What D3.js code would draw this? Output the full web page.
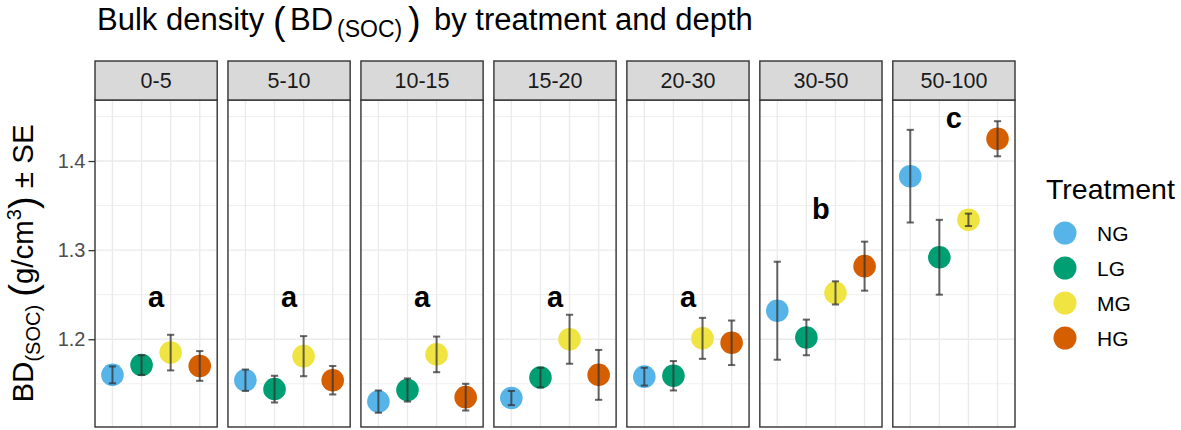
<!DOCTYPE html>
<html>
<head>
<meta charset="utf-8">
<script src="https://cdn.jsdelivr.net/npm/d3@7"></script>
<style>
  body { margin: 0; background: #fff; }
  svg { display: block; font-family: Arial, "Liberation Sans", sans-serif; }
</style>
</head>
<body>
<svg id="chart" width="1181" height="430"></svg>
<script>
const depths = ["0-5", "5-10", "10-15", "15-20", "20-30", "30-50", "50-100"];
const treatments = ["NG", "LG", "MG", "HG"];
const colors = ["#56B4E9", "#009E73", "#F0E442", "#D55E00"];

const meanNG = [1.160, 1.154, 1.130, 1.134, 1.158, 1.232, 1.383];
const seNG   = [0.0095, 0.012, 0.0125, 0.008, 0.010, 0.055, 0.052];
const meanLG = [1.171, 1.144, 1.143, 1.157, 1.159, 1.202, 1.292];
const seLG   = [0.011, 0.015, 0.013, 0.011, 0.0165, 0.020, 0.042];
const meanMG = [1.185, 1.181, 1.183, 1.200, 1.201, 1.252, 1.334];
const seMG   = [0.020, 0.0225, 0.020, 0.0275, 0.023, 0.013, 0.007];
const meanHG = [1.170, 1.154, 1.135, 1.160, 1.196, 1.282, 1.425];
const seHG   = [0.0167, 0.016, 0.015, 0.028, 0.025, 0.0275, 0.0197];

const letters = ["a", "a", "a", "a", "a", "b", "c"];
const letterY = [1.236, 1.236, 1.236, 1.236, 1.236, 1.335, 1.437];

const yTicks = [1.2, 1.3, 1.4];
const yMinor = [1.15, 1.25, 1.35, 1.45];

const means = [meanNG, meanLG, meanMG, meanHG];
const ses = [seNG, seLG, seMG, seHG];

const data = [];
depths.forEach((d, i) => {
  treatments.forEach((t, j) => {
    data.push({ depth: d, trt: t, mean: means[j][i], se: ses[j][i], color: colors[j] });
  });
});

const svg = d3.select("#chart");

const panelTop = 100, panelBottom = 427, stripTop = 61;
const panelScale = d3.scaleBand().domain(depths).range([95, 1015]).paddingInner(0.081).paddingOuter(0);
const y = d3.scaleLinear().domain([1.1015, 1.4685]).range([panelBottom, panelTop]);

// Title
const title = svg.append("text").attr("y", 30).attr("font-size", 31).attr("fill", "#000");
title.append("tspan").attr("x", 97).text("Bulk density");
title.append("tspan").attr("x", 273).attr("font-size", 38).attr("dy", 4).text("(");
title.append("tspan").attr("x", 290).attr("dy", -4).text("BD");
title.append("tspan").attr("x", 337).attr("font-size", 23).attr("dy", 7).text("(SOC)");
title.append("tspan").attr("x", 408).attr("font-size", 38).attr("dy", -3).text(")");
title.append("tspan").attr("x", 434).attr("dy", -4).text("by treatment and depth");

// Y axis title
const yt = svg.append("text")
  .attr("transform", `translate(33,${(panelTop + panelBottom) / 2}) rotate(-90)`)
  .attr("text-anchor", "middle").attr("font-size", 29.5).attr("fill", "#000");
yt.append("tspan").text("BD");
yt.append("tspan").attr("font-size", 20).attr("dy", 7).text("(SOC)");
yt.append("tspan").attr("dy", -7).text(" ");
yt.append("tspan").attr("font-size", 38).attr("dy", 3).text("(");
yt.append("tspan").attr("dy", -3).text("g/cm");
yt.append("tspan").attr("font-size", 20).attr("dy", -12).text("3");
yt.append("tspan").attr("font-size", 38).attr("dy", 15).text(")");
yt.append("tspan").attr("dy", -3).text(" ± SE");

// Y axis (left of first panel)
const axisX = panelScale(depths[0]);
const yAxis = svg.append("g").attr("transform", `translate(${axisX},0)`)
  .call(d3.axisLeft(y).tickValues(yTicks).tickSize(6.5).tickPadding(3).tickFormat(d3.format(".1f")));
yAxis.select(".domain").remove();
yAxis.selectAll(".tick line").attr("stroke", "#333333").attr("stroke-width", 1.3);
yAxis.selectAll(".tick text").attr("fill", "#4D4D4D").attr("font-size", 20)
  .attr("font-family", "Arial, 'Liberation Sans', sans-serif");

// Panels
depths.forEach((d, i) => {
  const x0 = panelScale(d), w = panelScale.bandwidth();
  const x = d3.scalePoint().domain(treatments).range([x0, x0 + w]).padding(0.6);
  const g = svg.append("g");
  const pd = data.filter(r => r.depth === d);

  g.append("rect").attr("x", x0).attr("y", panelTop).attr("width", w).attr("height", panelBottom - panelTop)
    .attr("fill", "#fff");
  g.selectAll(".hmin").data(yMinor).join("line")
    .attr("x1", x0).attr("x2", x0 + w).attr("y1", v => y(v)).attr("y2", v => y(v))
    .attr("stroke", "#EBEBEB").attr("stroke-width", 0.8);
  g.selectAll(".hmaj").data(yTicks).join("line")
    .attr("x1", x0).attr("x2", x0 + w).attr("y1", v => y(v)).attr("y2", v => y(v))
    .attr("stroke", "#EBEBEB").attr("stroke-width", 1.4);
  g.selectAll(".vmaj").data(treatments).join("line")
    .attr("x1", t => x(t)).attr("x2", t => x(t)).attr("y1", panelTop).attr("y2", panelBottom)
    .attr("stroke", "#EBEBEB").attr("stroke-width", 1.4);

  g.append("text").attr("x", x0 + w / 2).attr("y", y(letterY[i]))
    .attr("text-anchor", "middle").attr("font-size", 29).attr("font-weight", "bold")
    .attr("fill", "#000").text(letters[i]);

  g.selectAll("circle.pt").data(pd).join("circle")
    .attr("cx", r => x(r.trt)).attr("cy", r => y(r.mean)).attr("r", 11.3)
    .attr("fill", r => r.color);

  const eb = g.selectAll("g.eb").data(pd).join("g")
    .attr("stroke", "#333333").attr("stroke-opacity", 0.75).attr("stroke-width", 2);
  eb.append("line").attr("x1", r => x(r.trt)).attr("x2", r => x(r.trt))
    .attr("y1", r => y(r.mean - r.se)).attr("y2", r => y(r.mean + r.se));
  eb.append("line").attr("x1", r => x(r.trt) - 3.6).attr("x2", r => x(r.trt) + 3.6)
    .attr("y1", r => y(r.mean - r.se)).attr("y2", r => y(r.mean - r.se));
  eb.append("line").attr("x1", r => x(r.trt) - 3.6).attr("x2", r => x(r.trt) + 3.6)
    .attr("y1", r => y(r.mean + r.se)).attr("y2", r => y(r.mean + r.se));

  g.append("rect").attr("x", x0).attr("y", panelTop).attr("width", w).attr("height", panelBottom - panelTop)
    .attr("fill", "none").attr("stroke", "#333333").attr("stroke-width", 1.4);

  g.append("rect").attr("x", x0).attr("y", stripTop).attr("width", w).attr("height", panelTop - stripTop)
    .attr("fill", "#D9D9D9").attr("stroke", "#333333").attr("stroke-width", 1.4);
  g.append("text").attr("x", x0 + w / 2).attr("y", (stripTop + panelTop) / 2 + 7.5)
    .attr("text-anchor", "middle").attr("font-size", 21.5).attr("fill", "#1A1A1A").text(d);
});

// Legend
const lg = svg.append("g");
lg.append("text").attr("x", 1046).attr("y", 199).attr("font-size", 28.5).attr("fill", "#000").text("Treatment");
const legY = d3.scalePoint().domain(treatments).range([233, 338]);
treatments.forEach((t, j) => {
  lg.append("circle").attr("cx", 1065).attr("cy", legY(t)).attr("r", 11.5).attr("fill", colors[j]);
  lg.append("text").attr("x", 1097).attr("y", legY(t) + 7.5).attr("font-size", 21).attr("fill", "#000").text(t);
});
</script>
</body>
</html>
